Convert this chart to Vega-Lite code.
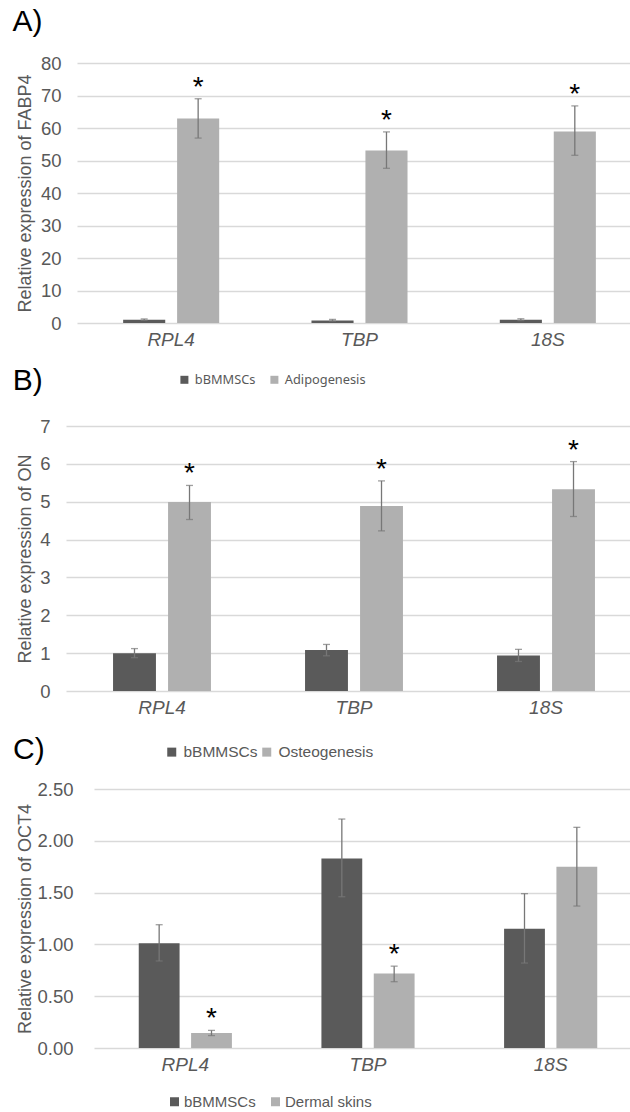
{
  "$schema": "https://vega.github.io/schema/vega-lite/v6.json",
  "padding": {"left": 0, "top": 7, "right": 0, "bottom": 0},
  "autosize": {"type": "pad"},
  "spacing": {"row": -30, "column": 11},
  "columns": 2,
  "align": "none",
  "bounds": "full",
  "resolve": {"scale": {"color": "independent", "xOffset": "independent", "x": "independent", "y": "independent"}, "legend": {"color": "independent"}, "axis": {"x": "independent", "y": "independent"}},
  "config": {
    "view": {"stroke": null},
    "font": "Liberation Sans",
    "title": {"fontSize": 30, "fontWeight": "normal", "color": "#000000", "anchor": "start", "frame": "bounds", "dx": -4},
    "axisX": {"title": null, "labelAngle": 0, "labelFontStyle": "italic", "labelFontSize": 19, "labelColor": "#595959", "domain": false, "ticks": false, "labelPadding": 7, "grid": false},
    "axisY": {"grid": true, "gridColor": "#d9d9d9", "gridWidth": 1.3, "domain": false, "ticks": false, "labelFontSize": 18.5, "labelColor": "#595959", "titleFontSize": 18, "titleColor": "#595959", "titleFontWeight": "normal", "labelOverlap": false},
    "legend": {"title": null, "orient": "none", "direction": "horizontal", "symbolType": "square", "symbolStrokeWidth": 0, "labelColor": "#595959"}
  },
  "datasets": {
    "A": [
      {"gene": "RPL4", "group": "bBMMSCs", "mean": 1.0, "lo": 0.8, "hi": 1.25, "sig": ""},
      {"gene": "RPL4", "group": "Adipogenesis", "mean": 62.9, "lo": 56.9, "hi": 69.0, "sig": "*"},
      {"gene": "TBP", "group": "bBMMSCs", "mean": 0.8, "lo": 0.6, "hi": 1.1, "sig": ""},
      {"gene": "TBP", "group": "Adipogenesis", "mean": 53.1, "lo": 47.6, "hi": 58.8, "sig": "*"},
      {"gene": "18S", "group": "bBMMSCs", "mean": 1.0, "lo": 0.75, "hi": 1.3, "sig": ""},
      {"gene": "18S", "group": "Adipogenesis", "mean": 58.9, "lo": 51.6, "hi": 66.8, "sig": "*"}
    ],
    "B": [
      {"gene": "RPL4", "group": "bBMMSCs", "mean": 1.0, "lo": 0.88, "hi": 1.12, "sig": ""},
      {"gene": "RPL4", "group": "Osteogenesis", "mean": 4.99, "lo": 4.53, "hi": 5.43, "sig": "*"},
      {"gene": "TBP", "group": "bBMMSCs", "mean": 1.08, "lo": 0.93, "hi": 1.23, "sig": ""},
      {"gene": "TBP", "group": "Osteogenesis", "mean": 4.89, "lo": 4.23, "hi": 5.55, "sig": "*"},
      {"gene": "18S", "group": "bBMMSCs", "mean": 0.94, "lo": 0.78, "hi": 1.1, "sig": ""},
      {"gene": "18S", "group": "Osteogenesis", "mean": 5.33, "lo": 4.61, "hi": 6.06, "sig": "*"}
    ],
    "C": [
      {"gene": "RPL4", "group": "bBMMSCs", "mean": 1.01, "lo": 0.84, "hi": 1.19, "sig": ""},
      {"gene": "RPL4", "group": "Dermal skins", "mean": 0.145, "lo": 0.12, "hi": 0.17, "sig": "*"},
      {"gene": "TBP", "group": "bBMMSCs", "mean": 1.83, "lo": 1.46, "hi": 2.21, "sig": ""},
      {"gene": "TBP", "group": "Dermal skins", "mean": 0.72, "lo": 0.64, "hi": 0.79, "sig": "*"},
      {"gene": "18S", "group": "bBMMSCs", "mean": 1.15, "lo": 0.82, "hi": 1.49, "sig": ""},
      {"gene": "18S", "group": "Dermal skins", "mean": 1.75, "lo": 1.37, "hi": 2.13, "sig": ""}
    ],
    "spacer": [{}]
  },
  "concat": [
    {"width": 1, "height": 1, "data": {"name": "spacer"}, "mark": {"type": "rect", "opacity": 0}, "encoding": {}},
    {
      "title": {"text": "A)", "offset": 17},
      "width": 553,
      "height": 260,
      "data": {"name": "A"},
      "encoding": {
        "x": {"field": "gene", "type": "nominal", "sort": ["RPL4", "TBP", "18S"], "scale": {"range": [0, 565], "paddingInner": 0.49, "paddingOuter": 0.245}},
        "xOffset": {"field": "group", "type": "nominal", "sort": ["bBMMSCs", "Adipogenesis"], "scale": {"paddingInner": 0.22, "paddingOuter": 0}}
      },
      "layer": [
        {
          "mark": {"type": "bar"},
          "encoding": {
            "y": {"field": "mean", "type": "quantitative", "scale": {"domain": [0, 80], "nice": false}, "axis": {"title": "Relative expression of FABP4", "values": [0, 10, 20, 30, 40, 50, 60, 70, 80], "labelPadding": 16, "titlePadding": 6}},
            "color": {"field": "group", "type": "nominal", "sort": ["bBMMSCs", "Adipogenesis"], "scale": {"domain": ["bBMMSCs", "Adipogenesis"], "range": ["#5a5a5a", "#b0b0b0"]}, "legend": {"legendX": 92, "legendY": 301, "padding": 9, "symbolSize": 64, "labelFont": "Noto Sans", "labelFontSize": 12.8, "columnPadding": 12, "labelOffset": 4}}
          }
        },
        {"mark": {"type": "rule", "color": "#777777", "strokeWidth": 1.3}, "encoding": {"y": {"field": "lo", "type": "quantitative", "scale": {"domain": [0, 80], "nice": false}, "axis": {"title": "Relative expression of FABP4", "values": [0, 10, 20, 30, 40, 50, 60, 70, 80], "labelPadding": 16, "titlePadding": 6}}, "y2": {"field": "hi"}}},
        {"mark": {"type": "tick", "color": "#777777", "size": 7, "thickness": 1.3}, "encoding": {"y": {"field": "lo", "type": "quantitative", "scale": {"domain": [0, 80], "nice": false}, "axis": {"title": "Relative expression of FABP4", "values": [0, 10, 20, 30, 40, 50, 60, 70, 80], "labelPadding": 16, "titlePadding": 6}}}},
        {"mark": {"type": "tick", "color": "#777777", "size": 7, "thickness": 1.3}, "encoding": {"y": {"field": "hi", "type": "quantitative", "scale": {"domain": [0, 80], "nice": false}, "axis": {"title": "Relative expression of FABP4", "values": [0, 10, 20, 30, 40, 50, 60, 70, 80], "labelPadding": 16, "titlePadding": 6}}}},
        {"mark": {"type": "text", "fontSize": 28, "dy": -3, "baseline": "alphabetic", "color": "#000000"}, "encoding": {"y": {"field": "hi", "type": "quantitative", "scale": {"domain": [0, 80], "nice": false}, "axis": {"title": "Relative expression of FABP4", "values": [0, 10, 20, 30, 40, 50, 60, 70, 80], "labelPadding": 16, "titlePadding": 6}}, "text": {"field": "sig"}}}
      ]
    },
    {"width": 1, "height": 1, "data": {"name": "spacer"}, "mark": {"type": "rect", "opacity": 0}, "encoding": {}},
    {
      "title": {"text": "B)", "offset": 21},
      "width": 564,
      "height": 265,
      "data": {"name": "B"},
      "encoding": {
        "x": {"field": "gene", "type": "nominal", "sort": ["RPL4", "TBP", "18S"], "scale": {"range": [0, 576], "paddingInner": 0.49, "paddingOuter": 0.245}},
        "xOffset": {"field": "group", "type": "nominal", "sort": ["bBMMSCs", "Osteogenesis"], "scale": {"paddingInner": 0.22, "paddingOuter": 0}}
      },
      "layer": [
        {
          "mark": {"type": "bar"},
          "encoding": {
            "y": {"field": "mean", "type": "quantitative", "scale": {"domain": [0, 7], "nice": false}, "axis": {"title": "Relative expression of ON", "values": [0, 1, 2, 3, 4, 5, 6, 7], "labelPadding": 16, "titlePadding": 5}},
            "color": {"field": "group", "type": "nominal", "sort": ["bBMMSCs", "Osteogenesis"], "scale": {"domain": ["bBMMSCs", "Osteogenesis"], "range": ["#5a5a5a", "#b0b0b0"]}, "legend": {"legendX": 94, "legendY": 314, "padding": 4, "symbolSize": 81, "labelFontSize": 15.5, "columnPadding": 1, "labelOffset": 4}}
          }
        },
        {"mark": {"type": "rule", "color": "#777777", "strokeWidth": 1.3}, "encoding": {"y": {"field": "lo", "type": "quantitative", "scale": {"domain": [0, 7], "nice": false}, "axis": {"title": "Relative expression of ON", "values": [0, 1, 2, 3, 4, 5, 6, 7], "labelPadding": 16, "titlePadding": 5}}, "y2": {"field": "hi"}}},
        {"mark": {"type": "tick", "color": "#777777", "size": 7, "thickness": 1.3}, "encoding": {"y": {"field": "lo", "type": "quantitative", "scale": {"domain": [0, 7], "nice": false}, "axis": {"title": "Relative expression of ON", "values": [0, 1, 2, 3, 4, 5, 6, 7], "labelPadding": 16, "titlePadding": 5}}}},
        {"mark": {"type": "tick", "color": "#777777", "size": 7, "thickness": 1.3}, "encoding": {"y": {"field": "hi", "type": "quantitative", "scale": {"domain": [0, 7], "nice": false}, "axis": {"title": "Relative expression of ON", "values": [0, 1, 2, 3, 4, 5, 6, 7], "labelPadding": 16, "titlePadding": 5}}}},
        {"mark": {"type": "text", "fontSize": 28, "dy": -3, "baseline": "alphabetic", "color": "#000000"}, "encoding": {"y": {"field": "hi", "type": "quantitative", "scale": {"domain": [0, 7], "nice": false}, "axis": {"title": "Relative expression of ON", "values": [0, 1, 2, 3, 4, 5, 6, 7], "labelPadding": 16, "titlePadding": 5}}, "text": {"field": "sig"}}}
      ]
    },
    {"width": 1, "height": 1, "data": {"name": "spacer"}, "mark": {"type": "rect", "opacity": 0}, "encoding": {}},
    {
      "title": {"text": "C)", "offset": 15},
      "width": 537,
      "height": 259,
      "data": {"name": "C"},
      "encoding": {
        "x": {"field": "gene", "type": "nominal", "sort": ["RPL4", "TBP", "18S"], "scale": {"range": [0, 548], "paddingInner": 0.49, "paddingOuter": 0.245}},
        "xOffset": {"field": "group", "type": "nominal", "sort": ["bBMMSCs", "Dermal skins"], "scale": {"paddingInner": 0.22, "paddingOuter": 0}}
      },
      "layer": [
        {
          "mark": {"type": "bar"},
          "encoding": {
            "y": {"field": "mean", "type": "quantitative", "scale": {"domain": [0, 2.5], "nice": false}, "axis": {"title": "Relative expression of OCT4", "values": [0, 0.5, 1, 1.5, 2, 2.5], "format": ".2f", "labelPadding": 21, "titlePadding": 2}},
            "color": {"field": "group", "type": "nominal", "sort": ["bBMMSCs", "Dermal skins"], "scale": {"domain": ["bBMMSCs", "Dermal skins"], "range": ["#5a5a5a", "#b0b0b0"]}, "legend": {"legendX": 73, "legendY": 305, "padding": 0, "symbolSize": 81, "labelFontSize": 15, "columnPadding": 12, "labelOffset": 2}}
          }
        },
        {"mark": {"type": "rule", "color": "#777777", "strokeWidth": 1.3}, "encoding": {"y": {"field": "lo", "type": "quantitative", "scale": {"domain": [0, 2.5], "nice": false}, "axis": {"title": "Relative expression of OCT4", "values": [0, 0.5, 1, 1.5, 2, 2.5], "format": ".2f", "labelPadding": 21, "titlePadding": 2}}, "y2": {"field": "hi"}}},
        {"mark": {"type": "tick", "color": "#777777", "size": 7, "thickness": 1.3}, "encoding": {"y": {"field": "lo", "type": "quantitative", "scale": {"domain": [0, 2.5], "nice": false}, "axis": {"title": "Relative expression of OCT4", "values": [0, 0.5, 1, 1.5, 2, 2.5], "format": ".2f", "labelPadding": 21, "titlePadding": 2}}}},
        {"mark": {"type": "tick", "color": "#777777", "size": 7, "thickness": 1.3}, "encoding": {"y": {"field": "hi", "type": "quantitative", "scale": {"domain": [0, 2.5], "nice": false}, "axis": {"title": "Relative expression of OCT4", "values": [0, 0.5, 1, 1.5, 2, 2.5], "format": ".2f", "labelPadding": 21, "titlePadding": 2}}}},
        {"mark": {"type": "text", "fontSize": 28, "dy": -3, "baseline": "alphabetic", "color": "#000000"}, "encoding": {"y": {"field": "hi", "type": "quantitative", "scale": {"domain": [0, 2.5], "nice": false}, "axis": {"title": "Relative expression of OCT4", "values": [0, 0.5, 1, 1.5, 2, 2.5], "format": ".2f", "labelPadding": 21, "titlePadding": 2}}, "text": {"field": "sig"}}}
      ]
    }
  ]
}
